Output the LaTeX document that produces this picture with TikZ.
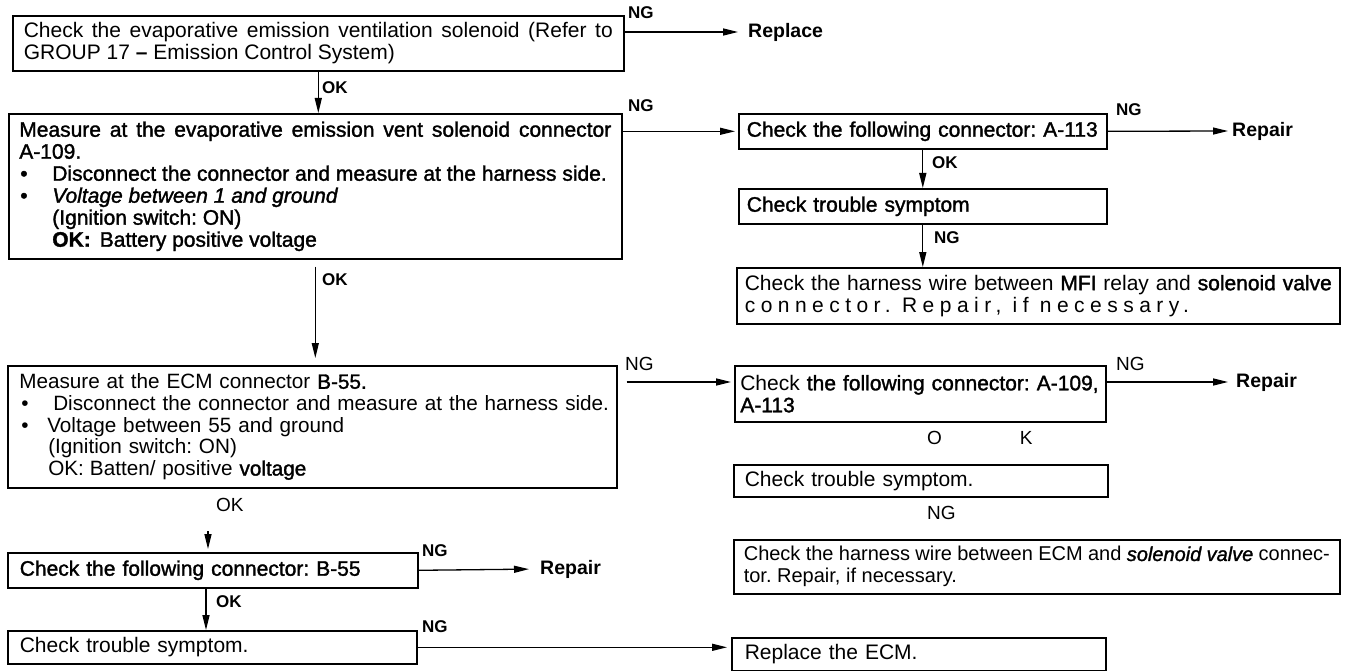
\documentclass[tikz,border=0pt]{standalone}
\usepackage{fontspec}
\setmainfont{Liberation Sans}
\newfontfamily\medfont[FakeBold=1.5]{Liberation Sans}
\usetikzlibrary{arrows.meta}
\newcommand\txtA{\fontsize{21pt}{22pt}\selectfont\frenchspacing}
\newcommand\txtC{\fontsize{20.7pt}{21.7pt}\selectfont\frenchspacing}
\newcommand\txtB{\fontsize{20pt}{22pt}\selectfont\frenchspacing}
\newcommand\lblb{\fontsize{17pt}{17pt}\selectfont\bfseries}
\newcommand\lblr{\fontsize{19pt}{19pt}\selectfont}
\newcommand\actfont{\fontsize{19.5pt}{20pt}\selectfont\bfseries}
\newcommand\bul{\textbullet}
\begin{document}
\frenchspacing
\begin{tikzpicture}[x=1pt,y=-1pt,
  box/.style={draw, line width=1.6pt, anchor=north west, inner ysep=0pt, font=\txtA},
  arr/.style={line width=1.3pt, -{Triangle[length=15pt,width=7pt]}},
  lb/.style={inner sep=0pt, anchor=west, font=\lblb},
  lr/.style={inner sep=0pt, anchor=west, font=\lblr},
  act/.style={inner sep=0pt, anchor=west, font=\actfont}]
\fill[white] (0,0) rectangle (1351,671);
\useasboundingbox (0,0) rectangle (1351,671);

% ---------- left column ----------
\node[box, align=justify, text width=589pt, inner xsep=11pt, minimum height=55pt] (b1) at (12,15)
  {Check the evaporative emission ventilation solenoid (Refer to\linebreak GROUP 17 {\bfseries –} Emission Control System)};

\node[box, font={\txtA\medfont}, align=justify, text width=592pt, inner xsep=10.5pt, minimum height=145pt] (b2) at (8,113)
  {Measure at the evaporative emission vent solenoid connector\linebreak A-109.\\
   \mbox{\makebox[33pt][l]{\hspace{1pt}\bul}Disconnect the connector and measure at the harness side.}\\
   \mbox{\makebox[33pt][l]{\hspace{1pt}\bul}{\itshape Voltage between 1 and ground}}\\
   \mbox{\hspace*{33pt}(Ignition switch: ON)}\\
   \mbox{\hspace*{33pt}{\bfseries OK:}\hspace{9pt}Battery positive voltage}};

\node[box, font=\txtC, align=left, text width=592pt, inner xsep=8.5pt, minimum height=122pt] (b3) at (7,365)
  {\mbox{\hspace*{3pt}Measure at the ECM connector {\medfont B-55.}}\\
   \mbox{\makebox[37pt][l]{\hspace{5pt}\bul}Disconnect the connector and measure at the harness side.}\\
   \mbox{\makebox[31pt][l]{\hspace{5pt}\bul}Voltage between 55 and ground}\\
   \mbox{\hspace*{32pt}(Ignition switch: ON)}\\
   \mbox{\hspace*{32pt}OK:\hspace{6pt}Batten/ positive {\medfont voltage}}};

\node[box, font={\txtA\medfont}, align=left, text width=386pt, inner xsep=12pt, minimum height=35pt] (b55) at (7,552)
  {\mbox{Check the following connector: B-55}};

\node[box, align=left, text width=385pt, inner xsep=12pt, minimum height=33pt] (cts3) at (7,630)
  {\mbox{Check trouble symptom.}};

% ---------- right column ----------
\node[box, font={\txtA\medfont}, align=left, text width=352pt, inner xsep=8pt, minimum height=35pt] (a113) at (738,113)
  {\mbox{Check the following connector: A-113}};

\node[box, font={\txtA\medfont}, align=left, text width=352pt, inner xsep=8pt, minimum height=35pt] (cts1) at (738,188)
  {\mbox{Check trouble symptom}};

\node[box, align=justify, text width=587pt, inner xsep=8pt, minimum height=56pt] (mfi) at (736,267)
  {Check the harness wire between {\medfont MFI} relay and {\medfont solenoid valve}\linebreak
   {\addfontfeature{LetterSpace=26}connector. Repair, if necessary.}};

\node[box, align=left, text width=360pt, inner xsep=5.5pt, minimum height=56pt] (a109) at (734,365)
  {\mbox{Check {\medfont the following connector: A-109,}}\\ \mbox{\medfont A-113}};

\node[box, align=left, text width=352pt, inner xsep=11pt, minimum height=32pt] (cts2) at (733,464)
  {\mbox{Check trouble symptom.}};

\node[box, font=\txtB, align=justify, text width=586pt, inner xsep=10pt, minimum height=54pt] (ecmh) at (733,539)
  {Check the harness wire between ECM and {\medfont\itshape solenoid valve} connec-\linebreak tor. Repair, if necessary.};

\node[box, align=left, text width=348pt, inner xsep=13pt, minimum height=33pt] (repl) at (731,637)
  {\mbox{Replace the ECM.}};

% ---------- action texts ----------
\node[act] (rpl) at (748,32) {Replace};
\node[act] (rp1) at (1232,131) {Repair};
\node[act] (rp2) at (1236,382) {Repair};
\node[act] (rp3) at (540,569) {Repair};

% ---------- labels ----------
\node[lb] (ng1) at (628,13) {NG};
\node[lb] (ok1) at (322,88) {OK};
\node[lb] (ng2) at (628,106) {NG};
\node[lb] (ng3) at (1116,110) {NG};
\node[lb] (ok2) at (932,163) {OK};
\node[lb] (ng4) at (934,238) {NG};
\node[lb] (ok3) at (322,280) {OK};
\node[lr] (ng5) at (625,364) {NG};
\node[lr] (ng6) at (1116,364) {NG};
\node[lr] (okx) at (927,438) {O\hspace{78pt}K};
\node[lr] (ng8) at (927,513) {NG};
\node[lr] (ok9) at (216,505) {OK};
\node[lb] (ng10) at (422,551) {NG};
\node[lb] (ok11) at (216,602) {OK};
\node[lb] (ng12) at (422,627) {NG};

% ---------- connectors ----------
\coordinate (y3) at (0,382);
\coordinate (s9) at (208,531);
\coordinate (x4) at (206,0);

\draw[arr, shorten >=10pt] (b1.east |- rpl.west) -- (rpl.west);
\draw[arr] (b1.south) -- (b1.south |- b2.north);
\draw[arr, shorten >=3pt] (b2.east |- a113.west) -- (a113.west);
\draw[arr, shorten >=4pt] (a113.east) -- (rp1.west);
\draw[arr] (a113.south) -- (cts1.north);
\draw[arr] (cts1.south) -- (cts1.south |- mfi.north);
\draw[arr, shorten <=7pt, shorten >=7pt] (b2.south) -- (b2.south |- b3.north);
\draw[arr, shorten <=9pt, shorten >=3pt] (b3.east |- y3) -- (a109.west |- y3);
\draw[arr, shorten >=8pt] (a109.east |- rp2.west) -- (rp2.west);
\draw[arr, shorten >=3pt] (s9) -- (s9 |- b55.north);
\draw[arr, shorten >=11pt] (b55.east) -- (rp3.west);
\draw[arr] (b55.south -| x4) -- (cts3.north -| x4);
\draw[arr, shorten >=4pt] (cts3.east) -- (cts3.east -| repl.west);
\end{tikzpicture}
\end{document}
